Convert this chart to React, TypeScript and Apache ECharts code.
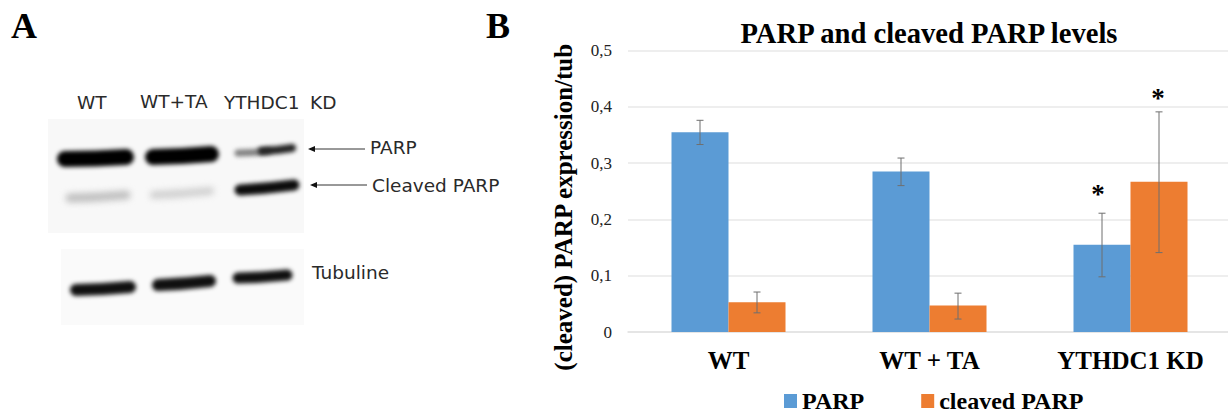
import React, { useEffect, useRef } from "react";
import * as echarts from "echarts";

const categories = ["WT", "WT + TA", "YTHDC1 KD"];
const parp = [0.355, 0.285, 0.155];
const cleaved = [0.053, 0.047, 0.267];
const parpLow = [0.333, 0.26, 0.098];
const parpHigh = [0.376, 0.309, 0.211];
const cleavedLow = [0.034, 0.023, 0.141];
const cleavedHigh = [0.071, 0.069, 0.391];
const parpStars = [null, null, 0.245];
const cleavedStars = [null, null, 0.416];
const ticks = [0, 0.1, 0.2, 0.3, 0.4, 0.5];

const SERIF = "'Liberation Serif', serif";
const SANS = "'DejaVu Sans', sans-serif";
const BAR = 57;

function blot(): string {
  const c = document.createElement("canvas");
  c.width = 300;
  c.height = 240;
  const g = c.getContext("2d")!;
  // origin of the picture is (40, 100) on the page
  const X = (x: number) => x - 40;
  const Y = (y: number) => y - 100;
  g.fillStyle = "#ffffff";
  g.fillRect(0, 0, 300, 240);
  g.fillStyle = "#f8f8f8";
  g.fillRect(X(48), Y(119), 256, 114);
  g.fillStyle = "#fafafa";
  g.fillRect(X(61), Y(249), 243, 76);
  const band = (x1: number, y1: number, x2: number, y2: number, w: number, col: string, blur: number) => {
    g.save();
    g.filter = `blur(${blur}px)`;
    g.strokeStyle = col;
    g.lineWidth = w;
    g.lineCap = "round";
    g.beginPath();
    g.moveTo(X(x1), Y(y1));
    g.quadraticCurveTo(X((x1 + x2) / 2), Y((y1 + y2) / 2 + 1), X(x2), Y(y2));
    g.stroke();
    g.restore();
  };
  band(65, 159, 126, 157, 16, "#000000", 2);
  band(153, 157, 211, 154, 16, "#000000", 2);
  band(238, 153, 268, 151, 7, "#808080", 2);
  band(262, 151, 292, 148, 8, "#222222", 2);
  band(70, 198, 126, 195, 9, "#c0c0c0", 3);
  band(154, 195, 210, 191, 8, "#d0d0d0", 3);
  band(240, 190, 294, 185, 11, "#0c0c0c", 2);
  band(76, 290, 130, 287, 12, "#101010", 2);
  band(158, 285, 210, 281, 12, "#101010", 2);
  band(238, 278, 287, 275, 11, "#101010", 2);
  return c.toDataURL("image/png");
}

const errorItem = (offset: number, low: number[], high: number[], stars: (number | null)[], starDx: number) =>
  (params: any, api: any) => {
    const i = params.dataIndex;
    const cx = api.coord([i, 0])[0] + offset;
    const yLow = api.coord([i, low[i]])[1];
    const yHigh = api.coord([i, high[i]])[1];
    const style = { stroke: "#6f6f6f", lineWidth: 1, fill: "none" };
    const children: any[] = [
      { type: "line", shape: { x1: cx, y1: yLow, x2: cx, y2: yHigh }, style },
      { type: "line", shape: { x1: cx - 3.5, y1: yLow, x2: cx + 3.5, y2: yLow }, style },
      { type: "line", shape: { x1: cx - 3.5, y1: yHigh, x2: cx + 3.5, y2: yHigh }, style },
    ];
    const s = stars[i];
    if (s != null) {
      children.push({
        type: "text",
        x: cx + starDx,
        y: api.coord([i, s])[1],
        style: { text: "*", font: `bold 27px ${SERIF}`, fill: "#000", align: "center", verticalAlign: "middle" },
      });
    }
    return { type: "group", children };
  };

const t = (text: string, x: number, y: number, size = 18.5, align = "left") => ({
  type: "text",
  x,
  y,
  style: { text, font: `${size}px ${SANS}`, fill: "#2a2a2a", align, verticalAlign: "middle" },
});

const arrow = (x1: number, x2: number, y: number) => [
  { type: "line", shape: { x1, y1: y, x2, y2: y }, style: { stroke: "#333", lineWidth: 1 } },
  {
    type: "polygon",
    shape: { points: [[x1 - 2, y], [x1 + 5, y - 3], [x1 + 5, y + 3]] },
    style: { fill: "#111" },
  },
];

export default function App() {
  const ref = useRef<HTMLDivElement>(null);
  useEffect(() => {
    const chart = echarts.init(ref.current!, undefined, { renderer: "svg" });
    chart.setOption({
      animation: false,
      backgroundColor: "#ffffff",
      title: {
        text: "PARP and cleaved PARP levels",
        left: 924,
        top: 14,
        textAlign: "center",
        textStyle: { fontFamily: SERIF, fontWeight: "bold", fontSize: 28.6, color: "#000" },
      },
      grid: { left: 628, top: 50.5, width: 603, height: 281.5, outerBoundsMode: "none" },
      legend: {
        data: ["PARP", "cleaved PARP"],
        left: 784,
        top: 389,
        padding: 0,
        itemWidth: 13,
        itemHeight: 14,
        itemGap: 57,
        icon: "rect",
        textStyle: { fontFamily: SERIF, fontWeight: "bold", fontSize: 24, lineHeight: 20, color: "#000" },
      },
      xAxis: {
        type: "category",
        data: categories,
        axisTick: { show: false },
        axisLine: { lineStyle: { color: "#e2e2e2", width: 1.5 } },
        axisLabel: { fontFamily: SERIF, fontWeight: "bold", fontSize: 25, color: "#000", margin: 16 },
      },
      yAxis: {
        type: "value",
        min: ticks[0],
        max: ticks[ticks.length - 1],
        interval: 0.1,
        name: "(cleaved) PARP expression/tub",
        nameLocation: "middle",
        nameGap: 52,
        nameTextStyle: { fontFamily: SERIF, fontWeight: "bold", fontSize: 25, color: "#000", padding: [0, 32, 0, 0] },
        axisLine: { show: false },
        axisTick: { show: false },
        splitLine: { lineStyle: { color: "#e8e8e8", width: 1.5 } },
        axisLabel: {
          fontFamily: SERIF,
          fontSize: 17,
          color: "#222",
          margin: 16,
          formatter: (v: number) => (v === 0 ? "0" : v.toFixed(1).replace(".", ",")),
        },
      },
      series: [
        { name: "PARP", type: "bar", data: parp, barWidth: BAR, barGap: "0%", itemStyle: { color: "#5b9bd5" } },
        { name: "cleaved PARP", type: "bar", data: cleaved, barWidth: BAR, itemStyle: { color: "#ed7d31" } },
        {
          type: "custom",
          data: categories.map((_, i) => [i, parpHigh[i]]),
          renderItem: errorItem(-BAR / 2, parpLow, parpHigh, parpStars, -4),
          z: 5,
          silent: true,
        },
        {
          type: "custom",
          data: categories.map((_, i) => [i, cleavedHigh[i]]),
          renderItem: errorItem(BAR / 2, cleavedLow, cleavedHigh, cleavedStars, -1),
          z: 5,
          silent: true,
        },
      ],
      graphic: [
        { type: "image", x: 40, y: 100, style: { image: blot(), x: 0, y: 0, width: 300, height: 240 }, z: 0 },
        {
          type: "text",
          x: 11,
          y: 26,
          style: { text: "A", font: `bold 36px ${SERIF}`, fill: "#000", verticalAlign: "middle" },
        },
        {
          type: "text",
          x: 486,
          y: 26,
          style: { text: "B", font: `bold 36px ${SERIF}`, fill: "#000", verticalAlign: "middle" },
        },
        t("WT", 77, 102),
        t("WT+TA", 140, 101),
        t("YTHDC1", 224, 102),
        t("KD", 310, 102),
        t("PARP", 370, 147),
        t("Cleaved PARP", 372, 185),
        t("Tubuline", 312, 272),
        ...arrow(310, 365, 149),
        ...arrow(312, 367, 185),
      ],
    });
    return () => chart.dispose();
  }, []);
  return <div ref={ref} style={{ position: "fixed", left: 0, top: 0, width: 1228, height: 417 }} />;
}
